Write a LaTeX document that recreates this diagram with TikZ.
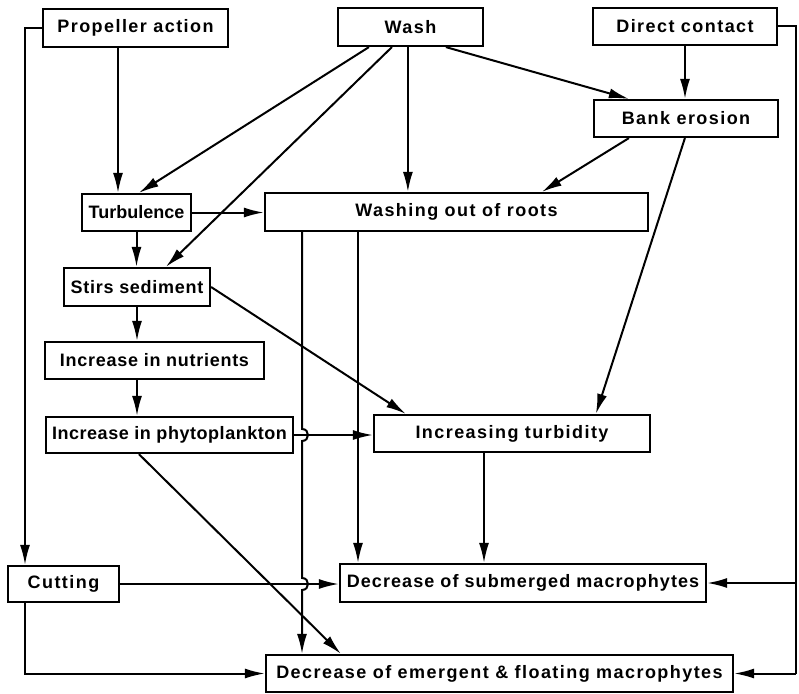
\documentclass[tikz,border=0pt]{standalone}
\usepackage{fontspec}
\setmainfont{Liberation Sans}[LetterSpace=8]
\usetikzlibrary{arrows.meta}
\begin{document}
\begin{tikzpicture}[x=1pt,y=-1pt,
  box/.style={draw, line width=2.2pt, inner sep=0pt, font=\fontsize{18}{21}\selectfont\bfseries},
  tight/.style={font=\fontsize{18}{21}\selectfont\bfseries\addfontfeature{LetterSpace=#1}},
  con/.style={line width=2pt},
  arr/.style={con, -{Latex[length=20pt,width=10pt]}}]
\useasboundingbox (0,0) rectangle (799,693);
% boxes
\node[box, minimum width=185pt, minimum height=38pt] (prop) at (135.5,28) {Propeller action};
\node[box, minimum width=145pt, minimum height=38pt] (wash) at (410.5,27) {Wash};
\node[box, minimum width=184pt, minimum height=37pt] (direct) at (685,26.5) {Direct contact};
\node[box, minimum width=184pt, minimum height=37pt] (bank) at (686,118.5) {Bank erosion};
\node[box, tight=0, minimum width=109pt, minimum height=37pt] (turb) at (136.5,212.5) {Turbulence};
\node[box, minimum width=383pt, minimum height=38pt] (roots) at (456.5,212) {Washing out of roots};
\node[box, tight=4, minimum width=146pt, minimum height=38pt] (stirs) at (137,287) {Stirs sediment};
\node[box, tight=4, minimum width=219pt, minimum height=37pt] (nutr) at (154.5,360.5) {Increase in nutrients};
\node[box, tight=3, minimum width=247pt, minimum height=36pt] (phyto) at (169.5,435) {Increase in phytoplankton};
\node[box, minimum width=276pt, minimum height=37pt] (turbid) at (512,433.5) {Increasing turbidity};
\node[box, minimum width=111pt, minimum height=36pt] (cut) at (63.5,584) {Cutting};
\node[box, tight=6, minimum width=366pt, minimum height=38pt] (sub) at (523,583) {Decrease of submerged macrophytes};
\node[box, minimum width=467pt, minimum height=37pt] (emer) at (499.5,673.5) {Decrease of emergent \& floating macrophytes};
% helper x positions
\coordinate (lx) at (25,0);
\coordinate (px) at (118,0);
\coordinate (rx) at (796,0);
\coordinate (v1) at (302,0);
\coordinate (v2) at (358,0);
\coordinate (v3) at (484,0);
% connectors
\draw[arr] (prop.west) -| (cut.north -| lx);
\draw[arr] (prop.south -| px) -- (turb.north -| px);
\draw[arr] ([xshift=32pt]wash.south west) -- ([xshift=58pt]turb.north west);
\draw[arr] ([xshift=55pt]wash.south west) -- ([xshift=103pt]stirs.north west);
\draw[arr] ([xshift=71pt]wash.south west) -- ([xshift=144pt]roots.north west);
\draw[arr] ([xshift=109pt]wash.south west) -- ([xshift=36pt]bank.north west);
\draw[arr] (direct.south) -- (direct.south |- bank.north);
\draw[con] (direct.east) -| (rx |- emer.east);
\draw[arr] (rx |- sub.east) -- (sub.east);
\draw[arr] (rx |- emer.east) -- (emer.east);
\draw[arr] ([xshift=36pt]bank.south west) -- ([xshift=278pt]roots.north west);
\draw[arr] ([xshift=92pt]bank.south west) -- ([xshift=223pt]turbid.north west);
\draw[arr] (turb.east) -- (turb.east -| roots.west);
\draw[arr] (turb.south) -- (turb.south |- stirs.north);
\draw[arr] (stirs.east) -- ([xshift=33pt]turbid.north west);
\draw[arr] (stirs.south) -- (stirs.south |- nutr.north);
\draw[arr] (stirs.south |- nutr.south) -- (stirs.south |- phyto.north);
\draw[arr] (phyto.east) -- (phyto.east -| turbid.west);
\draw[arr] ([xshift=94pt]phyto.south west) -- ([xshift=76pt]emer.north west);
\draw[arr] (v3 |- turbid.south) -- (v3 |- sub.north);
\draw[arr] (cut.east) -- (cut.east -| sub.west);
\draw[arr] (cut.south -| lx) |- (emer.west);
\draw[arr] (v2 |- roots.south) -- (v2 |- sub.north);
\draw[arr] (v1 |- roots.south) -- (302,429) .. controls (310,429) and (310,441) .. (302,441)
  -- (302,578) .. controls (310,578) and (310,590) .. (302,590) -- (v1 |- emer.north);
\end{tikzpicture}
\end{document}
